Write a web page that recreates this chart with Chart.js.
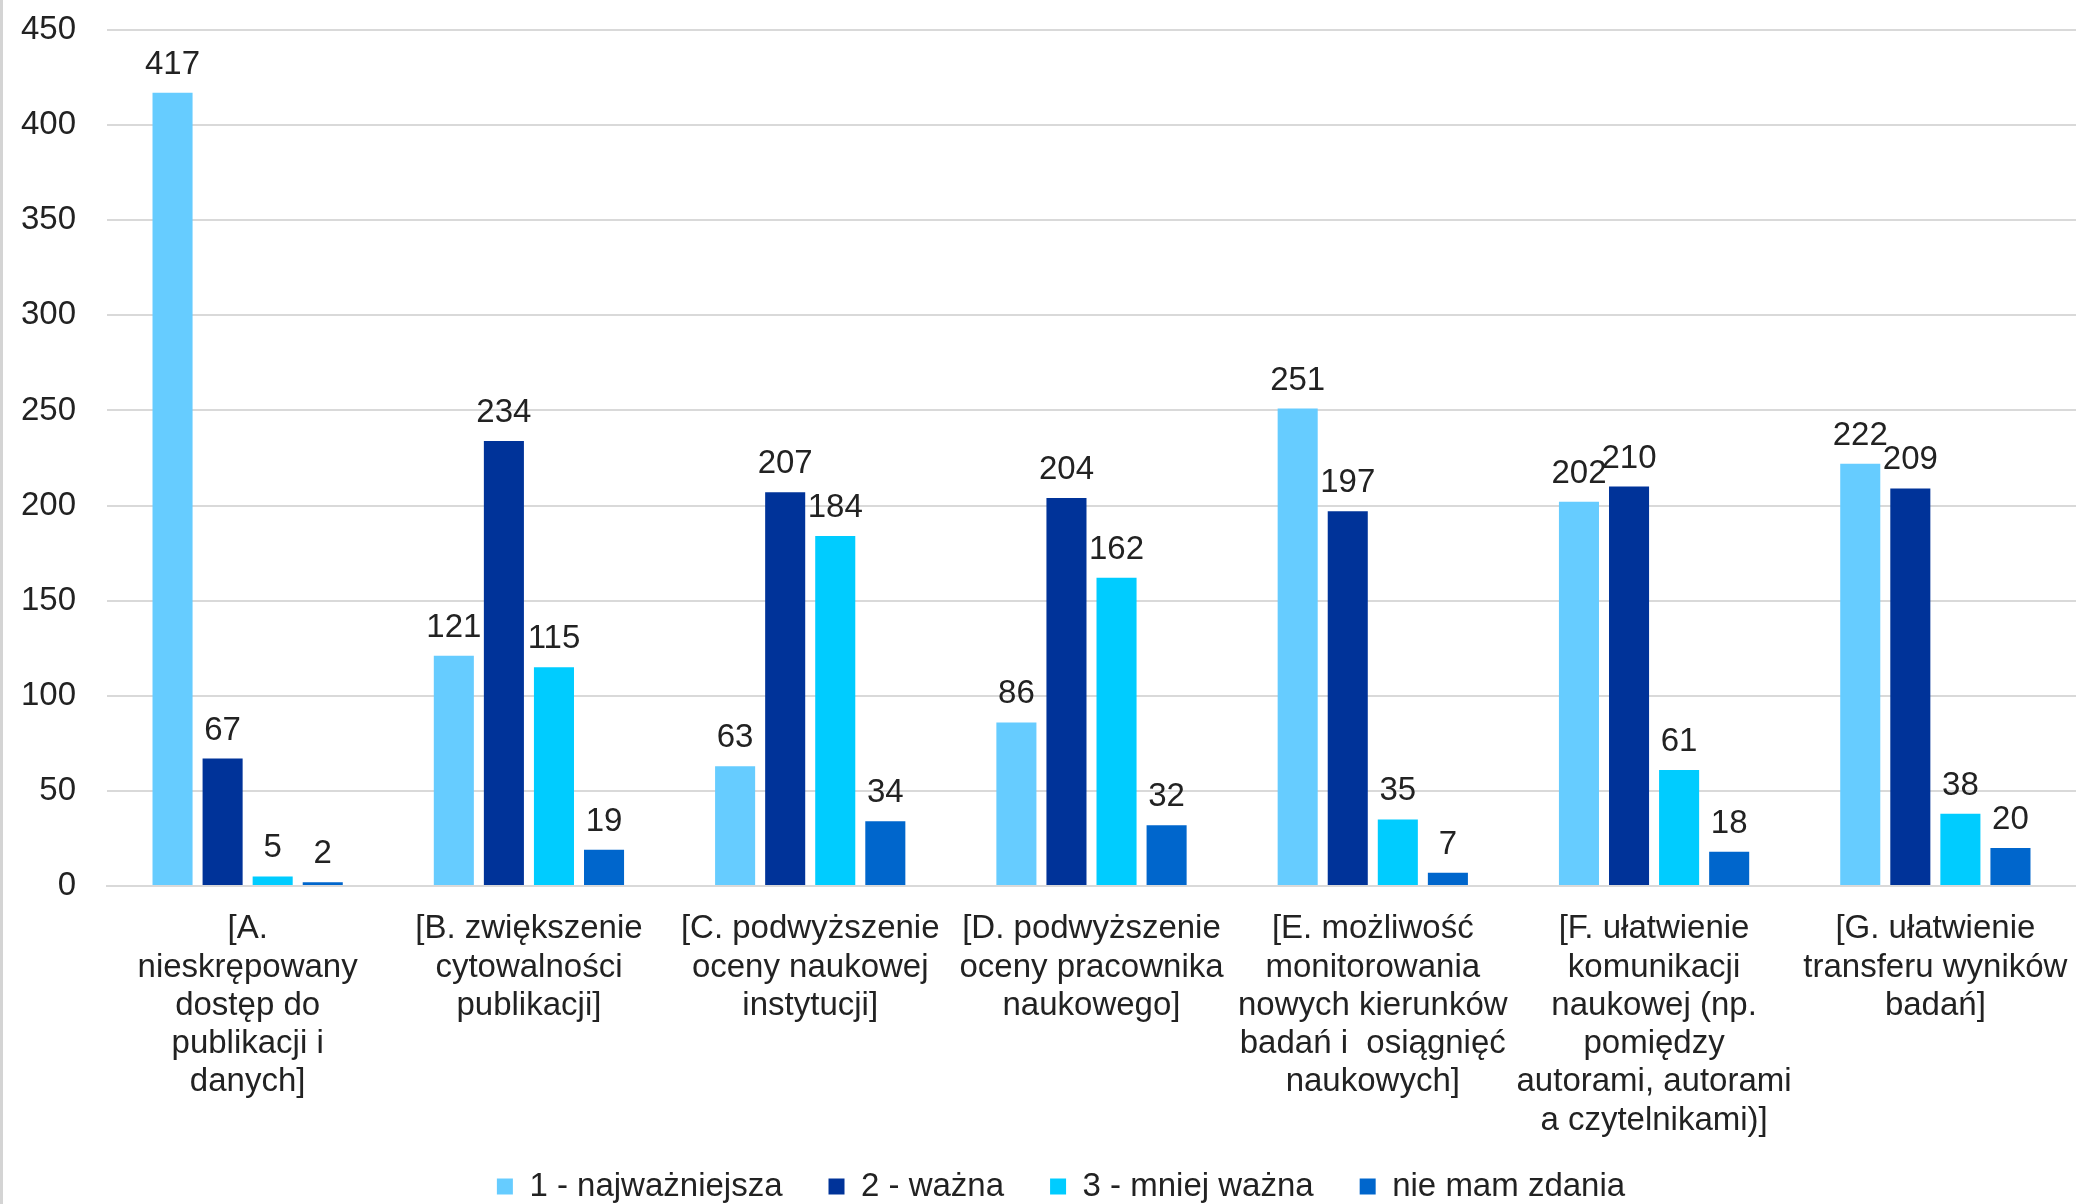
<!DOCTYPE html>
<html lang="pl">
<head>
<meta charset="utf-8">
<title>Wykres - korzyści</title>
<script src="https://cdn.jsdelivr.net/npm/chart.js@4.4.1/dist/chart.umd.min.js"></script>
<style>
    html, body { margin: 0; padding: 0; background: #ffffff; }
    #wrap { position: relative; width: 2076px; height: 1204px; }
</style>
</head>
<body>
<div id="wrap"><canvas id="chart"></canvas></div>
<script>
// Kategorie (etykiety osi X, podzielone na linie)
const categories = [
    ['[A.', 'nieskrępowany', 'dostęp do', 'publikacji i', 'danych]'],
    ['[B. zwiększenie', 'cytowalności', 'publikacji]'],
    ['[C. podwyższenie', 'oceny naukowej', 'instytucji]'],
    ['[D. podwyższenie', 'oceny pracownika', 'naukowego]'],
    ['[E. możliwość', 'monitorowania', 'nowych kierunków', 'badań i  osiągnięć', 'naukowych]'],
    ['[F. ułatwienie', 'komunikacji', 'naukowej (np.', 'pomiędzy', 'autorami, autorami', 'a czytelnikami)]'],
    ['[G. ułatwienie', 'transferu wyników', 'badań]']
];

const seriesNames = ['1 - najważniejsza', '2 - ważna', '3 - mniej ważna', 'nie mam zdania'];

// Wartości serii
const najwazniejsza = [417, 121, 63, 86, 251, 202, 222];
const wazna = [67, 234, 207, 204, 197, 210, 209];
const mniejWazna = [5, 115, 184, 162, 35, 61, 38];
const nieMamZdania = [2, 19, 34, 32, 7, 18, 20];

const yTicks = [0, 50, 100, 150, 200, 250, 300, 350, 400, 450];

const seriesColors = ['#66ccff', '#003399', '#00ccff', '#0066cc'];

const FONT = '"Liberation Sans", Arial, sans-serif';
const TEXT_COLOR = '#222222';

// Etykiety wartości nad słupkami
const valueLabels = {
    id: 'valueLabels',
    afterDatasetsDraw(chart) {
        const ctx = chart.ctx;
        ctx.save();
        ctx.font = '33px ' + FONT;
        ctx.fillStyle = TEXT_COLOR;
        ctx.textAlign = 'center';
        ctx.textBaseline = 'alphabetic';
        chart.data.datasets.forEach((ds, i) => {
            chart.getDatasetMeta(i).data.forEach((bar, j) => {
                ctx.fillText(String(ds.data[j]), bar.x, bar.y - 19);
            });
        });
        ctx.restore();
    }
};

// Tło i szara krawędź z lewej strony
const background = {
    id: 'background',
    beforeDraw(chart) {
        const ctx = chart.ctx;
        ctx.save();
        ctx.fillStyle = '#ffffff';
        ctx.fillRect(0, 0, chart.width, chart.height);
        ctx.fillStyle = '#d4d4d4';
        ctx.fillRect(0, 0, 3, chart.height);
        ctx.restore();
    }
};

// Długie etykiety osi X nie mogą być przycięte; legenda lekko przesunięta
const layoutTweaks = {
    id: 'layoutTweaks',
    afterLayout(chart) {
        chart.scales.x.bottom = chart.height;
        const legend = chart.legend;
        legend.left += 23;
        legend.right += 23;
        legend.top += 9;
        legend.bottom += 9;
    }
};

const allSeries = [najwazniejsza, wazna, mniejWazna, nieMamZdania];

const config = {
    type: 'bar',
    data: {
        labels: categories,
        datasets: allSeries.map((values, i) => ({
            label: seriesNames[i],
            data: values,
            backgroundColor: seriesColors[i],
            categoryPercentage: 0.712,
            barPercentage: 0.8
        }))
    },
    options: {
        responsive: true,
        maintainAspectRatio: false,
        animation: false,
        layout: {
            padding: { top: 30, right: 0, bottom: 0, left: 0 }
        },
        plugins: {
            legend: {
                position: 'bottom',
                labels: {
                    font: { family: FONT, size: 33 },
                    color: TEXT_COLOR,
                    boxWidth: 16,
                    boxHeight: 16,
                    padding: 46
                }
            },
            tooltip: { enabled: false }
        },
        scales: {
            x: {
                grid: { display: false, drawTicks: false },
                border: { display: true, color: '#d9d9d9', width: 2 },
                ticks: {
                    font: { family: FONT, size: 33, lineHeight: 1.16 },
                    color: TEXT_COLOR,
                    padding: 24,
                    maxRotation: 0,
                    autoSkip: false
                },
                afterFit(scale) {
                    scale.height = 229;
                    scale.paddingLeft = 0;
                    scale.paddingRight = 0;
                }
            },
            y: {
                min: 0,
                max: 450,
                afterBuildTicks(scale) {
                    scale.ticks = yTicks.map(v => ({ value: v }));
                },
                grid: { color: '#d9d9d9', lineWidth: 2, drawTicks: false },
                border: { display: false },
                ticks: {
                    font: { family: FONT, size: 33 },
                    color: TEXT_COLOR,
                    padding: 31
                },
                afterFit(scale) {
                    scale.width = 107;
                    scale.paddingTop = 0;
                    scale.paddingBottom = 0;
                }
            }
        }
    },
    plugins: [background, layoutTweaks, valueLabels]
};

new Chart(document.getElementById('chart').getContext('2d'), config);
</script>
</body>
</html>
